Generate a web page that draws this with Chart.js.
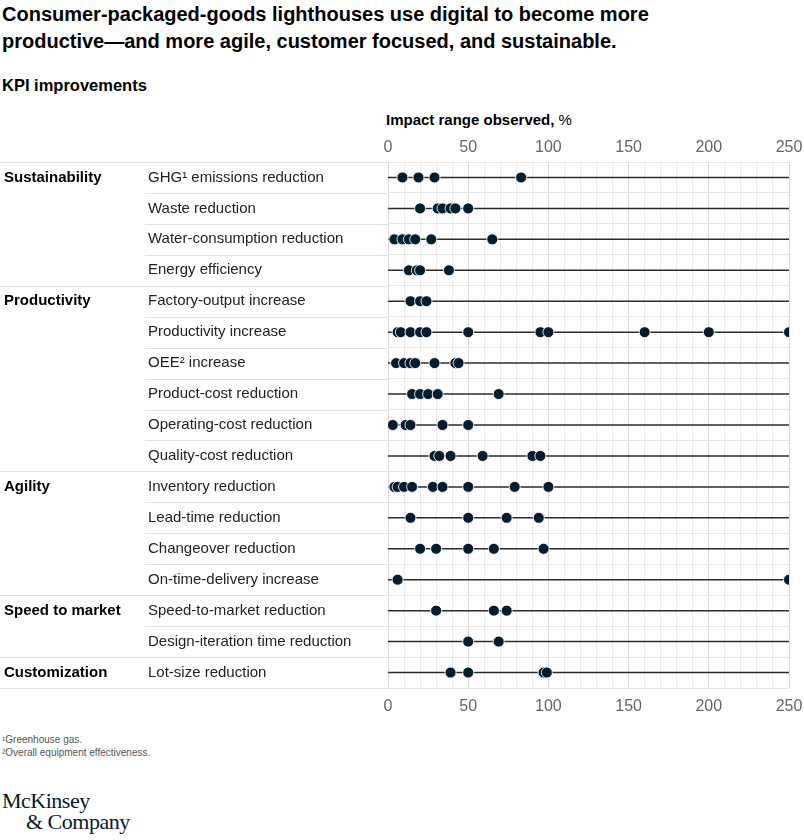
<!DOCTYPE html>
<html>
<head>
<meta charset="utf-8">
<script src="https://cdn.jsdelivr.net/npm/chart.js@4.4.1/dist/chart.umd.min.js"></script>
<style>
  body { margin: 0; background: #fff; font-family: "Liberation Sans", Arial, sans-serif; color: #000; }
  .titulo { position: absolute; left: 2px; top: 1px; width: 800px; font-size: 20px; font-weight: bold; line-height: 27px; }
  .subtitulo { position: absolute; left: 2px; top: 76px; font-size: 16.5px; font-weight: bold; }
  .eje { position: absolute; left: 386px; top: 111px; font-size: 15px; }
  .notas { position: absolute; left: 2px; top: 734px; font-size: 10px; color: #555; line-height: 12.5px; }
  .logo { position: absolute; left: 2px; top: 790px; font-family: "Liberation Serif", serif; color: #051c2c; font-size: 22px; line-height: 21px; letter-spacing: -0.5px; }
  #caja { position: absolute; left: 0; top: 130px; width: 804px; height: 590px; }
</style>
</head>
<body>
<div class="titulo">Consumer-packaged-goods lighthouses use digital to become more<br>productive—and more agile, customer focused, and sustainable.</div>
<div class="subtitulo">KPI improvements</div>
<div class="eje"><b>Impact range observed,</b> %</div>
<div id="caja"><canvas id="grafico" width="804" height="590"></canvas></div>
<div class="notas">¹Greenhouse gas.<br>²Overall equipment effectiveness.</div>
<div class="logo">McKinsey<br><span style="padding-left:24px">&amp; Company</span></div>

<script>
// Categorías (filas del gráfico)
const kpiLabels = [
  'GHG¹ emissions reduction', 'Waste reduction', 'Water-consumption reduction', 'Energy efficiency',
  'Factory-output increase', 'Productivity increase', 'OEE² increase', 'Product-cost reduction',
  'Operating-cost reduction', 'Quality-cost reduction',
  'Inventory reduction', 'Lead-time reduction', 'Changeover reduction', 'On-time-delivery increase',
  'Speed-to-market reduction', 'Design-iteration time reduction',
  'Lot-size reduction'
];

// Grupos y la fila donde empiezan
const groupNames = ['Sustainability', 'Productivity', 'Agility', 'Speed to market', 'Customization'];
const groupStarts = [0, 4, 10, 14, 16];

// Valores observados por fila (%)
const ghgValues = [9, 19, 29, 83];
const wasteValues = [20, 31, 34, 39, 42, 50];
const waterValues = [4, 9, 13, 17, 27, 65];
const energyValues = [13, 18, 20, 38];
const factoryValues = [14, 20, 24];
const productivityValues = [6, 8, 14, 20, 24, 50, 95, 100, 160, 200, 250];
const oeeValues = [5, 10, 14, 17, 29, 42, 44];
const productCostValues = [15, 20, 25, 31, 69];
const operatingCostValues = [3, 11, 14, 34, 50];
const qualityCostValues = [29, 32, 39, 59, 90, 95];
const inventoryValues = [4, 6, 10, 15, 28, 34, 50, 79, 100];
const leadTimeValues = [14, 50, 74, 94];
const changeoverValues = [20, 30, 50, 66, 97];
const onTimeValues = [6, 250];
const speedValues = [30, 66, 74];
const designValues = [50, 69];
const lotSizeValues = [39, 50, 97, 99];

const rowValues = [
  ghgValues, wasteValues, waterValues, energyValues,
  factoryValues, productivityValues, oeeValues, productCostValues, operatingCostValues, qualityCostValues,
  inventoryValues, leadTimeValues, changeoverValues, onTimeValues,
  speedValues, designValues, lotSizeValues
];

// Eje X
const xMin = 0;
const xMax = 250;
const xTicks = [0, 50, 100, 150, 200, 250];

// Una línea por fila, de extremo a extremo del eje
const lineDatasets = kpiLabels.map(label => ({
  type: 'line',
  data: [{ x: xMin, y: label }, { x: xMax, y: label }],
  borderColor: '#2b2b2b',
  borderWidth: 1.5,
  pointRadius: 0,
  order: 2
}));

// Puntos observados
const puntos = [];
rowValues.forEach((vals, i) => {
  vals.forEach(v => puntos.push({ x: v, y: kpiLabels[i] }));
});

// Plugin: separadores a la izquierda y nombres de grupo
const etiquetasGrupo = {
  id: 'etiquetasGrupo',
  afterDraw(chart) {
    const ctx = chart.ctx;
    const y = chart.scales.y;
    const area = chart.chartArea;
    ctx.save();
    ctx.strokeStyle = '#e2e2e2';
    ctx.lineWidth = 1;
    for (let i = 0; i <= kpiLabels.length; i++) {
      const py = Math.round(y.getPixelForValue(i - 0.5)) + 0.5;
      const full = i === 0 || i === kpiLabels.length || groupStarts.includes(i);
      ctx.beginPath();
      ctx.moveTo(full ? 0 : 145, py);
      ctx.lineTo(area.left, py);
      ctx.stroke();
    }
    ctx.fillStyle = '#000';
    ctx.font = 'bold 15px "Liberation Sans", Arial, sans-serif';
    ctx.textBaseline = 'middle';
    ctx.textAlign = 'left';
    groupNames.forEach((name, i) => {
      ctx.fillText(name, 4, y.getPixelForValue(groupStarts[i]));
    });
    ctx.restore();
  }
};

const tickFont = { family: '"Liberation Sans", Arial, sans-serif', size: 16 };

// Fija la altura del eje y quita el margen extra que pide la última etiqueta
function ajustarEjeX(s) {
  s.height = 32;
  s.paddingLeft = 0;
  s.paddingRight = 0;
}

new Chart(document.getElementById('grafico'), {
  type: 'scatter',
  data: {
    datasets: [
      ...lineDatasets,
      {
        type: 'scatter',
        data: puntos,
        pointRadius: 5.5,
        pointBackgroundColor: '#051c2c',
        pointBorderColor: 'rgba(255,255,255,0.85)',
        pointBorderWidth: 1,
        order: 1
      }
    ]
  },
  options: {
    responsive: false,
    animation: false,
    events: [],
    layout: { padding: { left: 148, right: 15, top: 0, bottom: 0 } },
    plugins: { legend: { display: false }, tooltip: { enabled: false } },
    scales: {
      x: {
        type: 'linear',
        position: 'bottom',
        min: xMin,
        max: xMax,
        afterFit: ajustarEjeX,
        afterBuildTicks: s => { s.ticks = Array.from({ length: 26 }, (_, k) => ({ value: k * 10 })); },
        ticks: {
          autoSkip: false,
          maxRotation: 0,
          padding: 9,
          color: '#666',
          font: tickFont,
          callback: v => xTicks.includes(v) ? String(v) : ''
        },
        grid: {
          drawTicks: false,
          color: c => (c.tick && c.tick.value % 50 === 0) ? '#d8d8d8' : '#ececec'
        },
        border: { display: false }
      },
      x2: {
        type: 'linear',
        position: 'top',
        min: xMin,
        max: xMax,
        afterFit: ajustarEjeX,
        afterBuildTicks: s => { s.ticks = xTicks.map(v => ({ value: v })); },
        ticks: { autoSkip: false, maxRotation: 0, padding: 5, color: '#666', font: tickFont },
        grid: { display: false, drawTicks: false },
        border: { display: false }
      },
      y: {
        type: 'category',
        labels: kpiLabels,
        offset: true,
        afterFit: s => { s.width = 240; },
        ticks: {
          crossAlign: 'far',
          padding: 0,
          color: '#222',
          font: { family: '"Liberation Sans", Arial, sans-serif', size: 15 }
        },
        grid: { offset: true, drawTicks: false, color: '#e6e6e6' },
        border: { display: false }
      }
    }
  },
  plugins: [etiquetasGrupo]
});
</script>
</body>
</html>
